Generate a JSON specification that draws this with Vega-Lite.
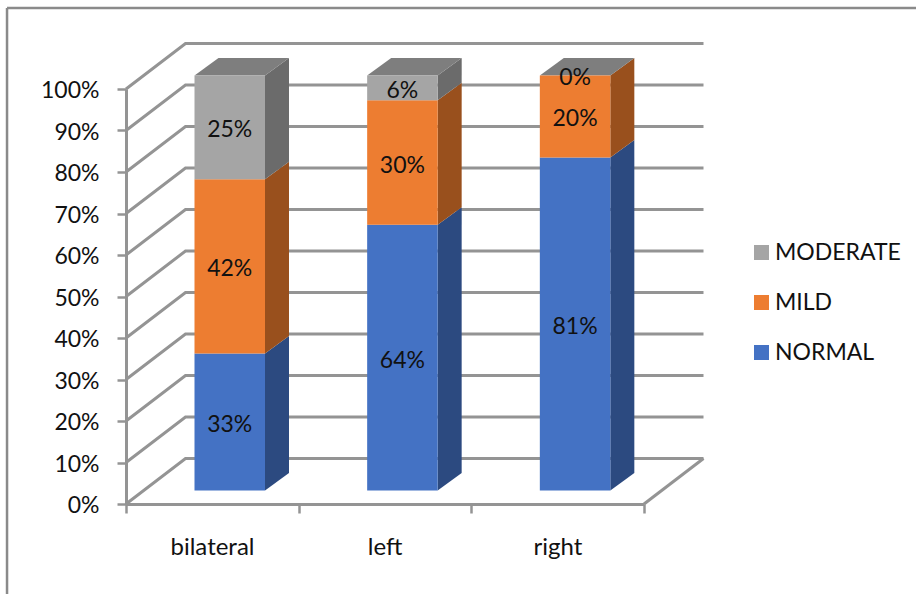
{
  "$schema": "https://vega.github.io/schema/vega-lite/v6.json",
  "width": 518,
  "height": 415,
  "autosize": "none",
  "padding": {"left": 126, "top": 89, "right": 272, "bottom": 90},
  "background": "white",
  "config": {"view": {"stroke": null}, "font": "Lato"},
  "datasets": {
    "shares": [
      {"category": "bilateral", "series": "NORMAL", "value": 0.33},
      {"category": "bilateral", "series": "MILD", "value": 0.42},
      {"category": "bilateral", "series": "MODERATE", "value": 0.25},
      {"category": "left", "series": "NORMAL", "value": 0.64},
      {"category": "left", "series": "MILD", "value": 0.30},
      {"category": "left", "series": "MODERATE", "value": 0.06},
      {"category": "right", "series": "NORMAL", "value": 0.81},
      {"category": "right", "series": "MILD", "value": 0.20},
      {"category": "right", "series": "MODERATE", "value": 0.0}
    ],
    "ticks": [
      {"tick": 0}, {"tick": 0.1}, {"tick": 0.2}, {"tick": 0.3}, {"tick": 0.4}, {"tick": 0.5},
      {"tick": 0.6}, {"tick": 0.7}, {"tick": 0.8}, {"tick": 0.9}, {"tick": 1}
    ]
  },
  "layer": [
    {
      "data": {"name": "ticks"},
      "transform": [
        {"calculate": "[0, 1, 2]", "as": "corner"},
        {"flatten": ["corner"]},
        {"calculate": "datum.corner == 0 ? 0 : (datum.corner == 1 ? 0.3446 : 3.3446)", "as": "wallX"},
        {"calculate": "datum.tick + (datum.corner > 0 ? 0.1096 : 0)", "as": "wallY"}
      ],
      "mark": {"type": "line", "stroke": "#949494", "strokeWidth": 3, "interpolate": "linear"},
      "encoding": {
        "detail": {"field": "tick", "type": "quantitative"},
        "x": {
          "field": "wallX",
          "type": "quantitative",
          "title": null,
          "scale": {"domain": [0, 3], "nice": false, "zero": false},
          "axis": {
            "orient": "bottom",
            "values": [0, 1, 2, 3],
            "labelExpr": "['bilateral', 'left', 'right', ''][datum.value]",
            "labelOffset": 86,
            "labelAngle": 0,
            "labelFontSize": 24,
            "labelColor": "#111111",
            "labelPadding": 22,
            "labelFlush": false,
            "labelOverlap": false,
            "labelBound": false,
            "tickSize": 9,
            "tickWidth": 2.5,
            "tickColor": "#949494",
            "domainWidth": 3,
            "domainColor": "#949494",
            "grid": false
          }
        },
        "y": {
          "field": "wallY",
          "type": "quantitative",
          "title": null,
          "scale": {"domain": [0, 1], "nice": false, "zero": false},
          "axis": {
            "values": [0, 0.1, 0.2, 0.3, 0.4, 0.5, 0.6, 0.7, 0.8, 0.9, 1],
            "format": ".0%",
            "labelFontSize": 23,
            "labelColor": "#111111",
            "labelPadding": 18,
            "labelOffset": 1.5,
            "tickSize": 9,
            "tickWidth": 2.5,
            "tickColor": "#949494",
            "domainWidth": 3,
            "domainColor": "#949494",
            "grid": false
          }
        }
      }
    },
    {
      "data": {"values": [{"edge": "frame"}]},
      "mark": {"type": "rule", "stroke": "#8a8a8a", "strokeWidth": 2.5},
      "encoding": {
        "x": {"datum": -0.689, "type": "quantitative"},
        "x2": {"datum": 4.58},
        "y": {"datum": 1.195, "type": "quantitative"}
      }
    },
    {
      "data": {"values": [{"edge": "frame"}]},
      "mark": {"type": "rule", "stroke": "#8a8a8a", "strokeWidth": 2.5},
      "encoding": {
        "x": {"datum": -0.689, "type": "quantitative"},
        "y": {"datum": 1.195, "type": "quantitative"},
        "y2": {"datum": -0.22}
      }
    },
    {
      "data": {"values": [{"edge": "floor"}]},
      "mark": {"type": "rule", "stroke": "#949494", "strokeWidth": 3},
      "encoding": {
        "x": {"datum": 3, "type": "quantitative"},
        "x2": {"datum": 3.3446},
        "y": {"datum": 0, "type": "quantitative"},
        "y2": {"datum": 0.1096}
      }
    },
    {
      "data": {"name": "shares"},
      "transform": [
        {"stack": "value", "groupby": ["category"], "offset": "normalize", "as": ["v0", "v1"]},
        {"calculate": "indexof(['bilateral', 'left', 'right'], datum.category)", "as": "slot"},
        {"calculate": "datum.slot + 0.3967", "as": "faceLeft"},
        {"calculate": "datum.slot + 0.805", "as": "faceRight"},
        {"calculate": "datum.v0 + 0.0328", "as": "faceLow"},
        {"calculate": "datum.v1 + 0.0328", "as": "faceHigh"},
        {"calculate": "[0, 1]", "as": "depth"},
        {"flatten": ["depth"]},
        {"calculate": "datum.faceRight + datum.depth * 0.139", "as": "sideX"},
        {"calculate": "datum.faceLow + datum.depth * 0.0422", "as": "sideLow"},
        {"calculate": "datum.faceHigh + datum.depth * 0.0422", "as": "sideHigh"},
        {"calculate": "datum.faceLeft + datum.depth * 0.139", "as": "topLeft"}
      ],
      "layer": [
        {
          "mark": {"type": "area", "interpolate": "linear"},
          "encoding": {
            "detail": [
              {"field": "category", "type": "nominal"},
              {"field": "series", "type": "nominal"}
            ],
            "x": {"field": "sideX", "type": "quantitative"},
            "y": {"field": "sideLow", "type": "quantitative"},
            "y2": {"field": "sideHigh"},
            "fill": {
              "condition": [
                {"test": "datum.series === 'NORMAL'", "value": "#2C4A80"},
                {"test": "datum.series === 'MILD'", "value": "#99501D"}
              ],
              "value": "#6B6B6B"
            }
          }
        },
        {
          "transform": [{"filter": "datum.series === 'MODERATE'"}],
          "mark": {"type": "area", "orient": "horizontal", "interpolate": "linear", "fill": "#7E7E7E"},
          "encoding": {
            "detail": {"field": "category", "type": "nominal"},
            "y": {"field": "sideHigh", "type": "quantitative"},
            "x": {"field": "topLeft", "type": "quantitative"},
            "x2": {"field": "sideX"}
          }
        },
        {
          "transform": [{"filter": "datum.depth == 0"}],
          "mark": {"type": "rect"},
          "encoding": {
            "x": {"field": "faceLeft", "type": "quantitative"},
            "x2": {"field": "faceRight"},
            "y": {"field": "faceLow", "type": "quantitative"},
            "y2": {"field": "faceHigh"},
            "fill": {
              "field": "series",
              "type": "nominal",
              "scale": {
                "domain": ["MODERATE", "MILD", "NORMAL"],
                "range": ["#A5A5A5", "#ED7D31", "#4472C4"]
              },
              "legend": {
                "title": null,
                "orient": "none",
                "legendX": 624,
                "legendY": 152,
                "symbolType": "square",
                "symbolSize": 225,
                "symbolStrokeWidth": 0,
                "labelFontSize": 23,
                "labelColor": "#111111",
                "labelOffset": 2,
                "rowPadding": 26
              }
            }
          }
        },
        {
          "transform": [
            {"filter": "datum.depth == 0"},
            {"calculate": "(datum.faceLeft + datum.faceRight) / 2", "as": "labelX"},
            {"calculate": "(datum.faceLow + datum.faceHigh) / 2", "as": "labelY"}
          ],
          "mark": {"type": "text", "fontSize": 23, "color": "#111111", "baseline": "middle", "dy": 3},
          "encoding": {
            "x": {"field": "labelX", "type": "quantitative"},
            "y": {"field": "labelY", "type": "quantitative"},
            "text": {"field": "value", "type": "quantitative", "format": ".0%"}
          }
        }
      ]
    }
  ]
}
